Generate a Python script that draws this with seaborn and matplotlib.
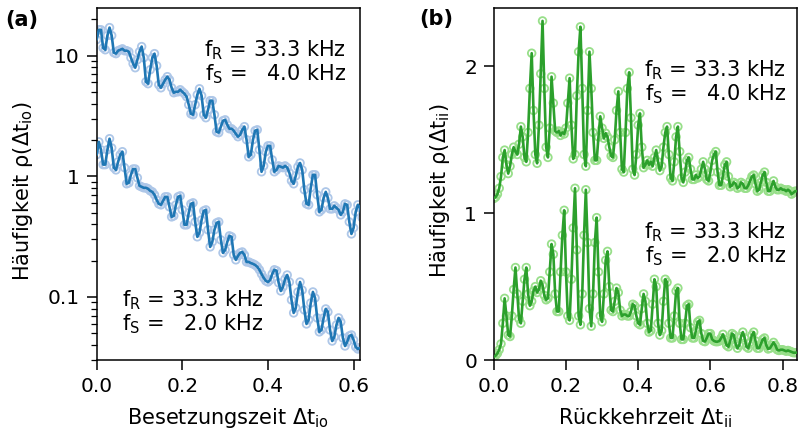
import numpy as np
import pandas as pd
import matplotlib
matplotlib.use("Agg")
import matplotlib.pyplot as plt
import seaborn as sns
from matplotlib.ticker import FixedLocator, FixedFormatter, LogLocator, NullFormatter

# ---------------- data ----------------
# panel (a): occupation time, grid step 0.005 from 0 to 0.62
ta = [round(0.005 * i, 3) for i in range(125)]
a_4khz = [13.6, 16.4, 16.4, 11.6, 11.2, 14.7, 17.1, 14.7, 10.6, 10.4,
          11.0, 11.2, 11.4, 11.0, 11.0, 10.8, 9.62, 8.59, 7.95, 9.26,
          10.8, 11.9, 9.62, 6.08, 5.86, 7.65, 9.62, 10.4, 8.26, 5.74,
          5.42, 5.86, 6.32, 6.70, 6.32, 5.42, 4.93, 5.02, 5.02, 5.22,
          5.02, 4.84, 4.57, 3.92, 3.30, 3.24, 3.92, 4.75, 5.32, 4.66,
          3.24, 3.06, 3.56, 4.24, 4.24, 3.24, 2.34, 2.30, 2.58, 2.89,
          2.94, 2.68, 2.48, 2.48, 2.39, 2.25, 2.13, 2.21, 2.43, 2.58,
          2.01, 1.45, 1.51, 2.01, 2.39, 2.43, 1.66, 1.09, 1.22, 1.60,
          1.79, 1.79, 1.37, 1.09, 1.13, 1.22, 1.20, 1.18, 1.22, 1.18,
          1.07, 0.918, 0.867, 1.01, 1.20, 1.29, 1.13, 0.773, 0.591, 0.580,
          0.803, 1.03, 1.03, 0.702, 0.507, 0.527, 0.663, 0.743, 0.663, 0.537,
          0.537, 0.569, 0.548, 0.527, 0.479, 0.507, 0.591, 0.580, 0.419, 0.333,
          0.374, 0.507, 0.580, 0.548, 0.453]
a_2khz = [1.51, 1.93, 1.66, 1.25, 1.25, 1.66, 2.05, 1.72, 1.18, 1.13,
          1.32, 1.51, 1.60, 1.18, 0.867, 0.883, 1.03, 1.15, 1.15, 0.972,
          0.834, 0.818, 0.803, 0.803, 0.788, 0.758, 0.743, 0.702, 0.638, 0.591,
          0.580, 0.626, 0.676, 0.676, 0.558, 0.461, 0.470, 0.580, 0.676, 0.689,
          0.527, 0.396, 0.396, 0.498, 0.591, 0.603, 0.419, 0.315, 0.340, 0.435,
          0.517, 0.527, 0.360, 0.260, 0.286, 0.360, 0.411, 0.419, 0.297, 0.232,
          0.245, 0.286, 0.321, 0.315, 0.223, 0.203, 0.219, 0.232, 0.236, 0.223,
          0.195, 0.195, 0.191, 0.188, 0.184, 0.178, 0.168, 0.155, 0.144, 0.136,
          0.133, 0.138, 0.155, 0.168, 0.165, 0.131, 0.112, 0.121, 0.141, 0.152,
          0.133, 0.0944, 0.0737, 0.0811, 0.110, 0.133, 0.114, 0.0780, 0.0597, 0.0645,
          0.0891, 0.110, 0.098, 0.0670, 0.0513, 0.0532, 0.0670, 0.0795, 0.0751, 0.0532,
          0.0431, 0.0466, 0.0586, 0.0670, 0.0621, 0.0457, 0.0392, 0.0423, 0.0475, 0.0484,
          0.0440, 0.0385, 0.0370, 0.0378, 0.0378]

# panel (b): return time, grid step 0.005 from 0 to 0.84
tb = [round(0.005 * i, 3) for i in range(169)]
b_4khz = [1.10, 1.11, 1.13, 1.17, 1.25, 1.38, 1.43, 1.33, 1.27, 1.32,
          1.40, 1.45, 1.42, 1.40, 1.47, 1.59, 1.52, 1.38, 1.35, 1.55,
          1.85, 2.09, 1.70, 1.40, 1.34, 1.60, 1.95, 2.31, 1.85, 1.45,
          1.38, 1.58, 1.93, 1.75, 1.56, 1.55, 1.56, 1.53, 1.55, 1.54,
          1.58, 1.75, 1.92, 1.60, 1.37, 1.40, 1.80, 2.10, 2.27, 1.85,
          1.40, 1.32, 1.70, 2.10, 1.85, 1.55, 1.36, 1.36, 1.52, 1.66,
          1.58, 1.51, 1.545, 1.52, 1.45, 1.39, 1.38, 1.50, 1.70, 1.83,
          1.55, 1.30, 1.28, 1.55, 1.85, 1.96, 1.65, 1.30, 1.26, 1.40,
          1.60, 1.68, 1.45, 1.31, 1.33, 1.36, 1.33, 1.35, 1.32, 1.38,
          1.43, 1.35, 1.29, 1.32, 1.45, 1.55, 1.59, 1.40, 1.24, 1.22,
          1.35, 1.52, 1.59, 1.42, 1.24, 1.21, 1.28, 1.36, 1.38, 1.30,
          1.23, 1.23, 1.26, 1.24, 1.25, 1.30, 1.35, 1.30, 1.23, 1.22,
          1.28, 1.36, 1.40, 1.42, 1.28, 1.19, 1.19, 1.26, 1.33, 1.35,
          1.25, 1.18, 1.19, 1.21, 1.20, 1.17, 1.18, 1.21, 1.20, 1.17,
          1.17, 1.19, 1.22, 1.25, 1.26, 1.20, 1.15, 1.16, 1.21, 1.26,
          1.28, 1.21, 1.15, 1.15, 1.19, 1.22, 1.18, 1.16, 1.16, 1.17,
          1.16, 1.16, 1.15, 1.16, 1.15, 1.13, 1.14, 1.15, 1.15]
b_2khz = [0.02, 0.03, 0.045, 0.07, 0.11, 0.25, 0.42, 0.30, 0.17, 0.16,
          0.30, 0.48, 0.63, 0.45, 0.28, 0.25, 0.40, 0.55, 0.63, 0.45,
          0.37, 0.40, 0.47, 0.50, 0.46, 0.48, 0.54, 0.51, 0.44, 0.41,
          0.42, 0.60, 0.79, 0.72, 0.45, 0.33, 0.33, 0.60, 0.85, 1.02,
          0.60, 0.30, 0.27, 0.55, 0.90, 1.17, 0.75, 0.30, 0.24, 0.45,
          0.85, 1.16, 0.80, 0.35, 0.23, 0.45, 0.80, 0.97, 0.60, 0.30,
          0.26, 0.45, 0.68, 0.74, 0.50, 0.34, 0.33, 0.40, 0.49, 0.46,
          0.34, 0.30, 0.31, 0.31, 0.30, 0.30, 0.33, 0.38, 0.37, 0.30,
          0.25, 0.24, 0.35, 0.45, 0.40, 0.25, 0.19, 0.20, 0.38, 0.55,
          0.50, 0.25, 0.17, 0.20, 0.40, 0.55, 0.53, 0.25, 0.15, 0.15,
          0.30, 0.47, 0.49, 0.25, 0.14, 0.14, 0.25, 0.37, 0.38, 0.22,
          0.15, 0.15, 0.20, 0.26, 0.27, 0.18, 0.13, 0.125, 0.15, 0.18,
          0.18, 0.14, 0.13, 0.125, 0.125, 0.13, 0.15, 0.175, 0.14, 0.10,
          0.09, 0.13, 0.18, 0.17, 0.11, 0.08, 0.10, 0.16, 0.19, 0.15,
          0.09, 0.08, 0.12, 0.17, 0.19, 0.13, 0.08, 0.08, 0.11, 0.14,
          0.15, 0.10, 0.075, 0.08, 0.10, 0.12, 0.10, 0.07, 0.065, 0.07,
          0.07, 0.065, 0.06, 0.065, 0.06, 0.055, 0.05, 0.05, 0.05]

ann_4 = "f$_\\mathrm{R}$ = 33.3 kHz\nf$_\\mathrm{S}$ =   4.0 kHz"
ann_2 = "f$_\\mathrm{R}$ = 33.3 kHz\nf$_\\mathrm{S}$ =   2.0 kHz"

# ---------------- style ----------------
sns.set_style("ticks")
plt.rcParams["font.family"] = ["DejaVu Sans"]
plt.rcParams["mathtext.default"] = "regular"
for k in ["text.color", "axes.labelcolor", "xtick.color", "ytick.color", "axes.edgecolor"]:
    plt.rcParams[k] = "black"

W, H = 799, 433
fig = plt.figure(figsize=(W / 100, H / 100), dpi=100)
top_px, bot_px = 7.7, 360
axa = fig.add_axes([96.7 / W, 1 - bot_px / H, (360 - 96.7) / W, (bot_px - top_px) / H])
axb = fig.add_axes([493.8 / W, 1 - bot_px / H, (797 - 493.8) / W, (bot_px - top_px) / H])

blue, lblue = "#1f77b4", "#aec7e8"
green, lgreen = "#2ca02c", "#98df8a"


def draw(ax, t, y, c, lc):
    df = pd.DataFrame({"t": t, "y": y})
    sns.scatterplot(data=df, x="t", y="y", ax=ax, marker="o", s=30,
                    facecolor="none", edgecolor=lc, linewidth=1.3, zorder=2,
                    legend=False)
    sns.lineplot(data=df, x="t", y="y", ax=ax, color=c, lw=1.9, zorder=3,
                 legend=False)


draw(axa, ta, a_4khz, blue, lblue)
draw(axa, ta, a_2khz, blue, lblue)
draw(axb, tb, b_4khz, green, lgreen)
draw(axb, tb, b_2khz, green, lgreen)

LBL = 15
TCK = 14.5

# axis (a)
axa.set_yscale("log")
axa.set_xlim(0, 0.615)
axa.set_ylim(0.03, 25)
axa.yaxis.set_major_locator(FixedLocator([0.1, 1, 10]))
axa.yaxis.set_major_formatter(FixedFormatter(["0.1", "1", "10"]))
axa.yaxis.set_minor_locator(LogLocator(base=10, subs=np.arange(2, 10)))
axa.yaxis.set_minor_formatter(NullFormatter())
axa.set_xticks([0.0, 0.2, 0.4, 0.6])
axa.set_xticklabels(["0.0", "0.2", "0.4", "0.6"])
axa.set_xlabel("Besetzungszeit Δt$_\\mathrm{io}$", fontsize=LBL)
axa.set_ylabel("Häufigkeit ρ(Δt$_\\mathrm{io}$)", fontsize=LBL)
axa.yaxis.set_label_coords((35 - 96.7) / (360 - 96.7), 0.48)
axa.xaxis.set_label_coords(0.5, (360 - 406) / (bot_px - top_px))

# axis (b)
axb.set_xlim(0, 0.84)
axb.set_ylim(0, 2.4)
axb.set_yticks([0, 1, 2])
axb.set_yticklabels(["0", "1", "2"])
axb.set_xticks([0.0, 0.2, 0.4, 0.6, 0.8])
axb.set_xticklabels(["0.0", "0.2", "0.4", "0.6", "0.8"])
axb.set_xlabel("Rückkehrzeit Δt$_\\mathrm{ii}$", fontsize=LBL)
axb.set_ylabel("Häufigkeit ρ(Δt$_\\mathrm{ii}$)", fontsize=LBL)
axb.yaxis.set_label_coords((452 - 493.8) / (797 - 493.8), 0.48)
axb.xaxis.set_label_coords(0.5, (360 - 406) / (bot_px - top_px))

for ax in (axa, axb):
    for s in ax.spines.values():
        s.set_visible(True)
        s.set_linewidth(1.1)
    ax.tick_params(which="major", direction="out", length=7, width=1.1,
                   pad=5, labelsize=TCK)
    ax.tick_params(which="minor", direction="out", length=4, width=0.9)

# annotations (pixel positions of the text boxes)
def ftext(x, y, s, ha):
    fig.text(x / W, 1 - y / H, s, ha=ha, va="top", fontsize=LBL, linespacing=1.05)

ftext(346, 38, ann_4, "right")
ftext(122, 288, ann_2, "left")
ftext(786, 58, ann_4, "right")
ftext(786, 220, ann_2, "right")

fig.text(5 / W, 1 - 20 / H, "(a)", fontsize=15, fontweight="bold", va="center")
fig.text(419 / W, 1 - 19 / H, "(b)", fontsize=15, fontweight="bold", va="center")

fig.savefig("out.png", dpi=100)
